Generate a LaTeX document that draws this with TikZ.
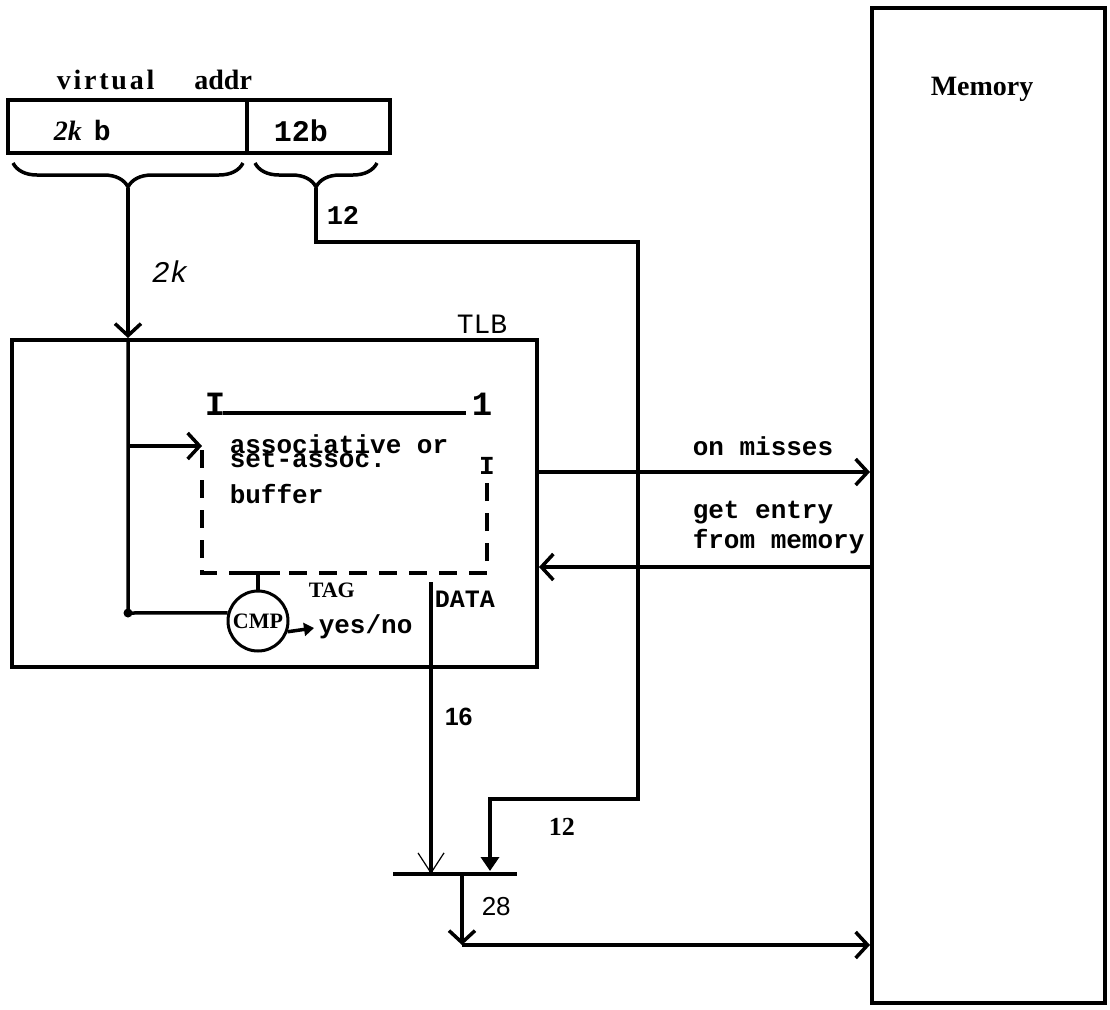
\documentclass[tikz,border=0pt]{standalone}
\usepackage{fontspec}
\setmainfont{Liberation Serif}
\setsansfont{Liberation Sans}
\setmonofont{Liberation Mono}
\newfontfamily\spacedserif[LetterSpace=10]{Liberation Serif}
\usetikzlibrary{arrows.meta,decorations.pathreplacing}
\newcommand{\setsz}[1]{\fontsize{#1}{#1}\selectfont}

\begin{document}
\begin{tikzpicture}[x=1pt, y=-1pt, line width=3.5pt,
    box/.style={draw, rectangle, line width=4pt, inner sep=0pt},
    txt/.style={anchor=base west, inner sep=0pt},
    tt/.style={txt, font=\ttfamily\bfseries\setsz{26}},
    arr/.style={-{Straight Barb[length=12pt,width=26pt]}},
    thinarr/.style={-{Straight Barb[length=20pt,width=26pt,line width=1.2pt]}},
    fillarr/.style={-{Triangle[length=14pt,width=18pt]}},
    brc/.style={decorate, decoration={brace, mirror, amplitude=24pt}},
    dashbox/.style={dash pattern=on 18pt off 12pt}]
    \useasboundingbox (0,0) rectangle (1110,1009);

    % virtual address
    \node[txt, font=\bfseries\setsz{28}] (vlbl) at (55,89) {{\spacedserif virtual}\hspace{40pt}addr};
    \node[box, minimum width=239pt, minimum height=53pt] (vpn) at (127.5,126.5) {};
    \node[box, minimum width=143pt, minimum height=53pt] (off) at (318.5,126.5) {};
    \node[txt, font=\bfseries\setsz{28}] (vpnlbl) at (52,140) {\itshape 2k\hspace{12pt}\upshape\ttfamily b};
    \node[txt, font=\ttfamily\bfseries\setsz{30}] (offlbl) at (272,141) {12b};
    \draw[brc] (13,163) -- (243,163);
    \draw[brc] (255,163) -- (377,163);
    \coordinate (vpntip) at (128,188);
    \coordinate (offtip) at (316,188);
    \node[txt, font=\ttfamily\bfseries\setsz{27}] (offbits) at (325,224) {12};
    \node[txt, font=\ttfamily\itshape\setsz{30}] (vpnbits) at (150,282) {2k};

    % memory
    \node[box, minimum width=233pt, minimum height=995pt] (mem) at (988.5,505.5) {};
    \node[txt, font=\bfseries\setsz{28}] (memlbl) at (929,95) {Memory};

    % TLB
    \node[box, minimum width=525pt, minimum height=327pt] (tlb) at (274.5,503.5) {};
    \node[txt, font=\ttfamily\setsz{28}] (tlblbl) at (455,333) {TLB};
    \node[txt, font=\ttfamily\bfseries\setsz{34}] (bufI) at (203,415) {I};
    \node[txt, font=\ttfamily\bfseries\setsz{34}] (buf1) at (470,415) {1};
    \node[anchor=base, inner sep=0pt, font=\ttfamily\bfseries\setsz{26}] (bufI2) at (487,474) {I};
    \draw (223,413) -- (466,413);
    \draw[dashbox] (202,450) |- (487,573) -- (487,482);
    \node[tt] (assoc) at (228,453) {associative or};
    \node[tt] (setassoc) at (228,467) {set-assoc.};
    \node[tt] (buflbl) at (228,503) {buffer};
    \node[draw, circle, line width=3pt, minimum size=60pt, inner sep=0pt,
          font=\bfseries\setsz{22}] (cmp) at (258,621) {CMP};
    \node[txt, font=\bfseries\setsz{22}] (tag) at (307,597) {TAG};
    \node[txt, font=\ttfamily\bfseries\setsz{25}] (data) at (433,607) {DATA};
    \node[tt] (yn) at (317,633) {yes/no};
    \coordinate (junc) at (128,613);
    \coordinate (brin) at (128,446);
    \coordinate (bufin) at (202,446);
    \coordinate (ynpt) at (314,628);
    \coordinate (datatop) at (431,582);

    \draw[arr] (vpntip) -- (vpntip |- tlb.north);
    \draw (vpntip |- tlb.north) -- (junc) -- (cmp.165);
    \fill (junc) circle (4.5pt);
    \draw[arr] (brin) -- (bufin);
    \draw (246,573) -- (280,573);
    \draw (cmp.north |- 0,573) -- (cmp.north);
    \draw[-{Triangle[length=10pt,width=13pt]}] (cmp.-20) -- (ynpt);

    % TLB <-> memory
    \node[tt] (miss) at (691,455) {on misses};
    \node[tt] (getent) at (691,518) {get entry};
    \node[tt] (frommem) at (691,548) {from memory};
    \coordinate (missrow) at (0,472);
    \coordinate (getrow) at (0,567);
    \draw[arr] (tlb.east |- missrow) -- (mem.west |- missrow);
    \draw[arr] (mem.west |- getrow) -- (tlb.east |- getrow);

    % physical address
    \coordinate (offrow) at (638,242);
    \coordinate (mrgrow) at (490,799);
    \coordinate (barL) at (393,874);
    \coordinate (barR) at (517,874);
    \coordinate (sumout) at (462,874);
    \coordinate (sumcorner) at (462,945);
    \draw[line width=4pt] (barL) -- (barR);
    \draw[fillarr] (offtip) |- (offrow) |- (mrgrow) -- (490,871);
    \draw[thinarr] (datatop) -- (datatop |- barL);
    \draw[arr] (sumout) -- (sumcorner);
    \draw[arr] (sumcorner) -- (mem.west |- sumcorner);
    \node[txt, font=\sffamily\bfseries\setsz{25}] (databits) at (443,725) {16};
    \node[txt, font=\bfseries\setsz{26}] (offbits2) at (547,835) {12};
    \node[txt, font=\sffamily\setsz{26}] (sumbits) at (480,915) {28};
\end{tikzpicture}
\end{document}
